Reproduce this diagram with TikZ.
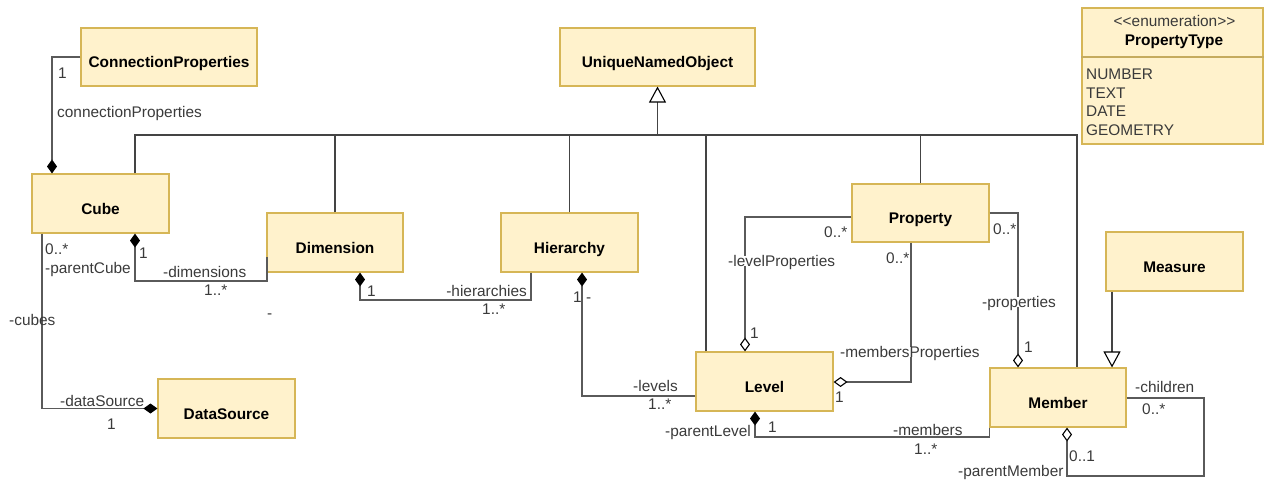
\documentclass[tikz,border=0pt]{standalone}
\usepackage{fontspec}
\setmainfont{Liberation Sans}
\usetikzlibrary{arrows.meta}
\definecolor{boxfill}{HTML}{FFF2CC}
\definecolor{boxline}{HTML}{D6B656}
\definecolor{wirecol}{HTML}{5A5A5A}
\definecolor{treecol}{HTML}{444444}
\definecolor{labelcol}{HTML}{3A3A3A}

\begin{document}
\begin{tikzpicture}[x=1pt,y=-1pt,
  font=\fontsize{15.4}{18}\selectfont,
  classbox/.style={draw=boxline, fill=boxfill, line width=1.1pt, inner sep=0pt,
    text height=21.5pt, text depth=0pt, text=black,
    font=\fontsize{15.4}{18}\selectfont\bfseries,
    minimum width=137pt, minimum height=59pt},
  wire/.style={draw=wirecol, line width=1.1pt},
  comp/.style={wire, -{Diamond[length=14pt,width=10pt,color=black,fill=black]}},
  agg/.style={wire, -{Diamond[open,length=14pt,width=10pt,color=black,fill=white]}},
  tree/.style={draw=treecol, line width=1.1pt},
  gen/.style={tree, -{Triangle[open,length=16pt,width=17pt,color=black,fill=white]}},
  lbl/.style={anchor=west, inner sep=0pt, text height=10.7pt, text depth=0pt, text=labelcol},
  lblbg/.style={lbl, fill=white, inner xsep=1pt}
]
\useasboundingbox (0,0) rectangle (1265,479);

% ---- classes ----
\node[classbox, minimum width=176pt, minimum height=58pt] (cp) at (169,57) {ConnectionProperties};
\node[classbox, minimum width=195pt, minimum height=58pt] (uno) at (657.5,57) {UniqueNamedObject};
\node[classbox] (cube) at (100.5,203.5) {Cube};
\node[classbox, minimum width=136pt] (dim) at (335,242.5) {Dimension};
\node[classbox] (hier) at (569.5,242.5) {Hierarchy};
\node[classbox] (ds) at (226.5,408.5) {DataSource};
\node[classbox] (level) at (764.5,381.5) {Level};
\node[classbox, minimum height=58pt] (prop) at (920.5,213) {Property};
\node[classbox, minimum width=136pt] (member) at (1058,397.5) {Member};
\node[classbox] (measure) at (1174.5,261.5) {Measure};

% enumeration PropertyType
\node[classbox, minimum width=181pt, minimum height=136pt] (ptype) at (1172.5,76) {};
\coordinate (ptdiv) at (0,57);
\draw[draw=boxline!80!gray, line width=1.1pt] (ptype.west |- ptdiv) -- (ptype.east |- ptdiv);
\node[inner sep=0pt, text height=10.7pt, text depth=0pt, text=labelcol] (ptster) at (1174.5,21) {<{}<enumeration>{}>};
\node[inner sep=0pt, text height=10.7pt, text depth=0pt, font=\fontsize{15.4}{18}\selectfont\bfseries] (ptname) at (1174,40) {PropertyType};
\node[lbl] (pt1) at (1086,74) {NUMBER};
\node[lbl] (pt2) at (1086,93) {TEXT};
\node[lbl] (pt3) at (1086,111) {DATE};
\node[lbl] (pt4) at (1086,130) {GEOMETRY};

% ---- generalisation tree to UniqueNamedObject ----
\coordinate (tl) at (135,135);
\coordinate (tr) at (1077,135);
\coordinate (tlev) at (706,135);
\draw[gen] (uno.south |- tl) -- (uno.south);
\draw[tree] (cube.north -| tl) -- (tl) -- (tr) -- (member.north -| tr);
\draw[tree] (dim.north) -- (dim.north |- tl);
\draw[tree] (hier.north) -- (hier.north |- tl);
\draw[tree] (level.north -| tlev) -- (tlev);
\draw[tree] (prop.north) -- (prop.north |- tl);

% Measure specialises Member
\coordinate (cmeas) at (1112,0);
\draw[gen] (measure.south -| cmeas) -- (member.north -| cmeas);

% ---- associations ----
% Cube -- ConnectionProperties
\coordinate (ccp) at (52,57);
\draw[comp] (cp.west) -- (ccp) -- (cube.north -| ccp);
% Cube -- DataSource
\coordinate (cds) at (42,408.5);
\draw[comp] (cube.south -| cds) -- (cds) -- (ds.west);
% Cube -- Dimension
\coordinate (cdim) at (135,281);
\coordinate (cdimb) at (267,257);
\draw[comp] (cdimb) -- (cdimb |- cdim) -- (cdim) -- (cube.south -| cdim);
% Dimension -- Hierarchy
\coordinate (chier) at (360,300);
\coordinate (chierb) at (531,300);
\draw[comp] (hier.south -| chierb) -- (chierb) -- (chier) -- (dim.south -| chier);
% Hierarchy -- Level
\coordinate (clev) at (582,396);
\draw[comp] (level.west |- clev) -- (clev) -- (hier.south -| clev);
% Level -- Member
\coordinate (cmem) at (755,437);
\draw[comp] (member.south west) -- (member.south west |- cmem) -- (cmem) -- (level.south -| cmem);
% Property -- Level (levelProperties)
\coordinate (clp) at (745,217);
\draw[agg] (prop.west |- clp) -- (clp) -- (level.north -| clp);
% Property -- Level (membersProperties)
\coordinate (cmp) at (911,382);
\draw[agg] (prop.south -| cmp) -- (cmp) -- (level.east |- cmp);
% Property -- Member (properties)
\coordinate (cpr) at (1018,213);
\draw[agg] (prop.east |- cpr) -- (cpr) -- (member.north -| cpr);
% Member -- Member (children / parentMember)
\coordinate (cch) at (1204,398);
\coordinate (cpm) at (1067,476);
\draw[agg] (member.east |- cch) -- (cch) -- (cch |- cpm) -- (cpm) -- (member.south -| cpm);

% ---- role names and multiplicities ----
\node[lbl] (m1) at (58,73) {1};
\node[lbl] (r1) at (57,112) {connectionProperties};
\node[lbl] (m2) at (45,249) {0..*};
\node[lbl] (r2) at (45,268) {-parentCube};
\node[lbl] (r3) at (9,320) {-cubes};
\node[lbl] (r4) at (60,401) {-dataSource};
\node[lbl] (m3) at (107,424) {1};
\node[lbl] (m4) at (139,253) {1};
\node[lbl] (r5) at (163,272) {-dimensions};
\node[lbl] (m5) at (204,290) {1..*};
\node[lbl] (r6) at (267,313) {-};
\node[lbl] (m6) at (367,291) {1};
\node[lbl, anchor=east] (r7) at (527,291) {-hierarchies};
\node[lbl] (m7) at (482,309) {1..*};
\node[lbl] (m8) at (573,297) {1};
\node[lbl] (r8) at (586,297) {-};
\node[lbl] (r9) at (633,386) {-levels};
\node[lbl] (m9) at (648,404) {1..*};
\node[lbl] (r10) at (665,431) {-parentLevel};
\node[lbl] (m10) at (768,427) {1};
\node[lblbg] (r11) at (727,261) {-levelProperties};
\node[lbl] (m11) at (824,232) {0..*};
\node[lbl] (m12) at (750,333) {1};
\node[lbl] (m13) at (886,258) {0..*};
\node[lblbg] (r12) at (839,352) {-membersProperties};
\node[lbl] (m14) at (835,397) {1};
\node[lbl] (m15) at (993,229) {0..*};
\node[lblbg] (r13) at (981,302) {-properties};
\node[lbl] (m16) at (1024,347) {1};
\node[lbl] (r14) at (893,430) {-members};
\node[lbl] (m17) at (914,449) {1..*};
\node[lbl] (r15) at (1135,387) {-children};
\node[lbl] (m18) at (1142,409) {0..*};
\node[lbl] (m19) at (1069,456) {0..1};
\node[lbl] (r16) at (958,471) {-parentMember};
\end{tikzpicture}
\end{document}
